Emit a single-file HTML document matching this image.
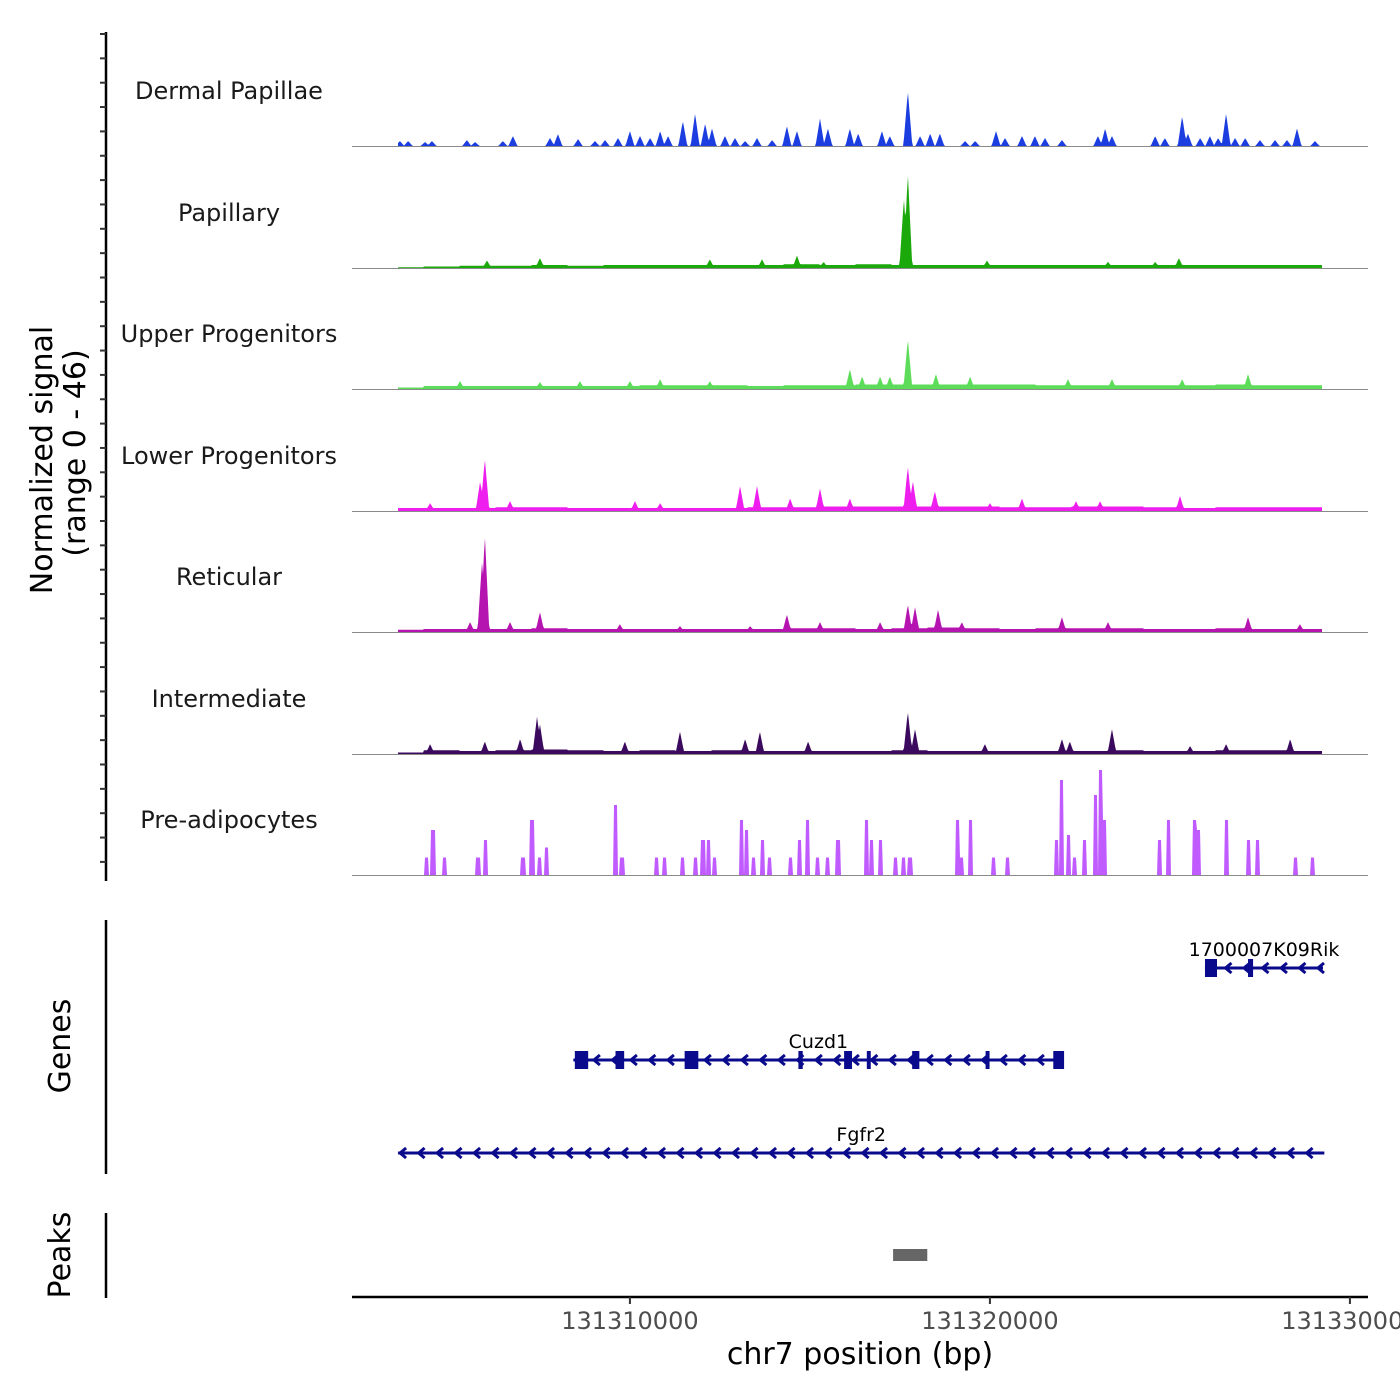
<!DOCTYPE html>
<html><head><meta charset="utf-8">
<style>
html,body{margin:0;padding:0;background:#fff;}
svg{display:block;font-family:"DejaVu Sans","Liberation Sans",sans-serif;}
</style></head>
<body>
<svg id="chart" width="1400" height="1400" viewBox="0 0 1400 1400" xmlns="http://www.w3.org/2000/svg">
<rect width="1400" height="1400" fill="#fff"/>
<g id="tracks"></g>
<g id="genes"></g>
<g id="axes"></g>
</svg>
<script>
// ---- data ----
const regionStartBp = 131302280;
const regionEndBp = 131330500;
const xTickBp = [131310000, 131320000, 131330000];
const xTickLabels = ["131310000", "131320000", "131330000"];
const trackNames = ["Dermal Papillae","Papillary","Upper Progenitors","Lower Progenitors","Reticular","Intermediate","Pre-adipocytes"];
const trackColors = ["#1c3ee0","#1aa80a","#5ddc5a","#ee1fee","#b514b0","#3b0a5e","#c05cff"];
const yMax = 46;
// background levels per 1kb bin starting at offset 1 kb
const bgDermal = [0,0,0,0,0,0,0,0,0,0,0,0,0,0,0,0,0,0,0,0,0,0,0,0,0,0,0];
const bgPapillary = [0.3,0.6,0.9,0.9,1.2,0.9,1.2,1.2,1.2,1.2,1.2,1.5,1.2,1.5,1.2,1.2,1.2,1.2,1.2,1.2,1.2,1.2,1.2,1.2,1.2,1.2,0.6];
const bgUpper = [0.6,1.2,1.2,1.2,1.2,1.2,1.2,1.5,1.5,1.5,1.2,1.5,1.5,1.8,1.8,1.8,1.8,1.8,1.5,1.5,1.5,1.5,1.5,1.8,1.5,1.5,1.2];
const bgLower = [1.2,1.2,1.2,1.5,1.5,1.2,1.2,1.2,1.2,1.2,1.5,1.5,1.8,1.8,1.8,1.8,1.8,1.5,1.5,1.8,1.8,1.5,1.2,1.5,1.5,1.5,1.2];
const bgReticular = [0.9,1.2,1.2,1.2,1.5,1.2,1.2,1.2,1.2,1.2,1.2,1.5,1.5,1.2,1.5,1.8,1.5,1.2,1.5,1.5,1.5,1.2,1.2,1.5,1.2,1.2,0];
const bgIntermediate = [0.6,1.5,1.2,1.5,1.8,1.5,1.2,1.5,1.2,1.5,1.2,1.2,1.2,1.2,1.5,1.2,1.2,1.2,1.2,1.2,1.5,1.2,1.2,1.5,1.5,1.2,0.6];
const bgPreadipo = [0,0,0,0,0,0,0,0,0,0,0,0,0,0,0,0,0,0,0,0,0,0,0,0,0,0,0];
// peaks: offset (kb from region start) and height (signal units)
const pkDermalPos = [1.33,1.56,2.03,2.22,3.19,3.42,4.19,4.47,5.5,5.72,6.28,6.75,7.03,7.39,7.72,8.0,8.28,8.56,8.78,9.19,9.53,9.81,10.0,10.36,10.64,10.92,11.25,11.67,12.08,12.36,13.0,13.22,13.83,14.06,14.72,14.94,15.44,15.78,16.06,16.33,17.03,17.31,17.89,18.14,18.61,18.97,19.25,19.72,20.72,20.92,21.11,22.31,22.58,23.06,23.22,23.56,23.83,24.06,24.28,24.53,24.81,25.22,25.64,25.97,26.25,26.75];
const pkDermalVal = [2,2,1.6,2,2.4,1.6,2,4,3.2,4.8,2.8,2,2.4,3.2,6,4,3.2,6,4,10,13,9,7,4,3.2,2,3.2,2.4,8,6,11,7,7,5,6,4,22,4,5,5,2,2,6,3.2,4,4,3.2,2.4,4,7,4,4,3.2,12,5,3.2,4,3.2,13,3.2,3.2,2.4,2.4,2.4,7,2];
const pkPapillaryPos = [15.33,15.44,3.75,5.22,12.36,11.39,17.64,22.97,21.0,22.31,9.94,13.1];
const pkPapillaryVal = [28,38,3,4,5,3.5,3,4,2.5,2.5,3.5,2.5];
const pkUpperPos = [15.44,13.83,14.17,14.67,14.94,16.22,17.17,19.89,21.11,23.06,24.89,3.0,6.33,5.22,7.72,8.56,9.94];
const pkUpperVal = [20,8,5,5,5,6,5,4,4,4,6,3.2,3.2,2.8,3.2,4,3.2];
const pkLowerPos = [3.69,3.56,10.78,11.25,12.17,13.0,13.83,15.44,15.58,16.19,23.0,20.78,2.17,4.39,7.86,8.56,17.72,18.61,20.11];
const pkLowerVal = [21,12,10,10,5,9,5,18,12,8,6,4,3.2,4,4,3.2,3.2,5,4];
const pkReticularPos = [3.69,3.61,5.22,3.28,4.39,12.08,15.44,15.64,16.28,13.0,14.67,16.94,19.72,21.0,24.89,26.33,7.44,9.11,11.06];
const pkReticularVal = [39,28,8,4,4,7,11,10,9,4,4,4,6,4,6,3.2,3.2,2.4,2.4];
const pkInterPos = [3.69,5.14,5.22,4.67,2.17,7.58,9.11,11.33,10.92,12.67,15.44,15.64,17.58,19.72,19.94,21.11,23.28,24.28,26.06];
const pkInterVal = [5,15,12,6,4,5,9,9,6,5,17,10,4,6,5,10,3.2,4,6];
const pkPrePos = [2.08,2.25,2.58,3.5,3.72,4.75,5.0,5.22,5.39,7.33,7.5,8.47,8.69,9.19,9.53,9.75,9.89,10.06,10.83,10.97,11.14,11.39,11.61,12.17,12.44,12.64,12.94,13.22,13.5,14.28,14.44,14.67,15.11,15.33,15.5,16.83,16.94,17.17,17.83,18.22,19.58,19.72,19.89,20.08,20.36,20.64,20.78,20.89,22.44,22.67,23.39,23.5,24.28,24.89,25.14,26.22,26.69];
const pkPreVal = [7,18,7,7,14,7,22,7,11,28,7,7,7,7,7,14,14,7,22,18,7,14,7,7,14,22,7,7,14,22,14,14,7,7,7,22,7,22,7,7,14,38,16,7,14,32,42,22,14,22,22,18,22,14,14,7,7];
const trackBg = [bgDermal,bgPapillary,bgUpper,bgLower,bgReticular,bgIntermediate,bgPreadipo];
const trackPkPos = [pkDermalPos,pkPapillaryPos,pkUpperPos,pkLowerPos,pkReticularPos,pkInterPos,pkPrePos];
const trackPkVal = [pkDermalVal,pkPapillaryVal,pkUpperVal,pkLowerVal,pkReticularVal,pkInterVal,pkPreVal];
// genes (bp)
const geneNames = ["1700007K09Rik","Cuzd1","Fgfr2"];
const geneStart = [131325974, 131308430, 131303560];
const geneEnd = [131329252, 131322040, 131329290];
const geneRows = [0,1,2];
const exonGene = [0,0,1,1,1,1,1,1,1,1,1];
const exonStart = [131325974,131327170,131308470,131309600,131311520,131314680,131315950,131316580,131317840,131319880,131321760];
const exonEnd = [131326308,131327310,131308840,131309840,131311900,131314800,131316170,131316690,131318040,131319990,131322060];
const peakRegionStart = [131317310];
const peakRegionEnd = [131318260];

// ---- scales ----
const X0 = 352, X1 = 1368;
const pxPerBp = 36/1000;
function xScale(bp){ return X0 + (bp - regionStartBp)*pxPerBp; }
const trackBase = [146,268,389,511,632,754,875];
const trackH = 115;
function yScale(i, v){ return trackBase[i] - v/yMax*trackH; }
const NS = "http://www.w3.org/2000/svg";
function mk(tag, attrs, parent){ const e=document.createElementNS(NS,tag); for(const k in attrs) e.setAttribute(k,attrs[k]); parent.appendChild(e); return e; }

const tracksG = document.getElementById('tracks');
for(let i=0;i<7;i++){
  const g = mk('g',{},tracksG);
  
  
  const lbl = mk('text',{x:229,y:trackBase[i]-47,'text-anchor':'middle','font-size':'24',fill:'#1a1a1a'},g);
  lbl.textContent = trackNames[i];
  
  
  const pxStart = Math.round(xScale(regionStartBp + 1280)), pxEnd = Math.round(xScale(regionStartBp + 26950));
  const bars = (i===6);
  const prof = [];
  for(let px=pxStart; px<=pxEnd; px++){
    const kb = (px - X0)/pxPerBp/1000;
    const bi = Math.floor(kb - 1);
    let v = (bi>=0 && bi<trackBg[i].length) ? trackBg[i][bi] : 0;
    const pos = trackPkPos[i], val = trackPkVal[i];
    for(let k=0;k<pos.length;k++){
      const cx = xScale(regionStartBp + pos[k]*1000);
      const d = Math.abs(px - cx);
      if(bars){ if(d<=2) v = Math.max(v, val[k]); }
      else { const hw = 4.5; if(d<hw) v = Math.max(v, val[k]*(1-d/hw)); }
    }
    prof.push([px, v]);
  }
  let d = 'M'+pxStart+','+trackBase[i];
  for(const [px,v] of prof) d += 'L'+px+','+yScale(i,v).toFixed(1);
  d += 'L'+pxEnd+','+trackBase[i]+'Z';
  const area = mk('path',{d:d,fill:trackColors[i],stroke:'none'},g);
  
  
  const bl = mk('line',{x1:X0,x2:X1,y1:trackBase[i]+0.5,y2:trackBase[i]+0.5,stroke:'#8a8a8a','stroke-width':1},g);
  
  
}

// genes
const genesG = document.getElementById('genes');
const rowY = [968,1060,1153];
const navy = '#0a0a8c';
for(let gI=0; gI<geneNames.length; gI++){
  const y = rowY[geneRows[gI]];
  const xa = xScale(geneStart[gI]), xb = xScale(geneEnd[gI]);
  const g = mk('g',{},genesG);
  
  
  mk('line',{x1:xa,x2:xb,y1:y,y2:y,stroke:navy,'stroke-width':3},g);
  for(let x=xa+2; x<xb-4; x+=18.5){
    mk('path',{d:'M'+(x+6)+','+(y-5)+'L'+x+','+y+'L'+(x+6)+','+(y+5),fill:'none',stroke:navy,'stroke-width':3},g);
  }
  const t = mk('text',{x:(xa+xb)/2,y:y-12,'text-anchor':'middle','font-size':'19',fill:'#000'},g);
  t.textContent = geneNames[gI];
  
  
}
for(let e=0;e<exonStart.length;e++){
  const y = rowY[geneRows[exonGene[e]]];
  const xa = xScale(exonStart[e]), xb = xScale(exonEnd[e]);
  const r = mk('rect',{x:xa,y:y-9,width:Math.max(xb-xa,3),height:18,fill:navy},genesG);
  
  
}
for(let p=0;p<peakRegionStart.length;p++){
  const xa = xScale(peakRegionStart[p]), xb = xScale(peakRegionEnd[p]);
  const r = mk('rect',{x:xa,y:1249,width:xb-xa,height:12,fill:'#666'},genesG);
  
  
}

// axes
const ax = document.getElementById('axes');
mk('line',{x1:106,x2:106,y1:32,y2:881,stroke:'#000','stroke-width':2.5},ax);
for(let y=34; y<=880; y+=24.35){ mk('line',{x1:100,x2:106,y1:y,y2:y,stroke:'#333','stroke-width':2},ax); }
mk('line',{x1:106,x2:106,y1:920,y2:1174,stroke:'#000','stroke-width':2.5},ax);
mk('line',{x1:106,x2:106,y1:1213,y2:1298,stroke:'#000','stroke-width':2.5},ax);
mk('line',{x1:X0,x2:X1,y1:1297,y2:1297,stroke:'#000','stroke-width':2.5},ax);
for(let k=0;k<xTickBp.length;k++){
  const x = xScale(xTickBp[k]);
  mk('line',{x1:x,x2:x,y1:1297,y2:1304,stroke:'#333','stroke-width':2},ax);
  const t = mk('text',{x:x,y:1329,'text-anchor':'middle','font-size':'24',fill:'#4d4d4d'},ax);
  t.textContent = xTickLabels[k];
  
  
}
</script>
<svg style="position:absolute;left:0;top:0" width="1400" height="1400">
<text x="860" y="1364" text-anchor="middle" font-size="30" fill="#000" font-family="DejaVu Sans, Liberation Sans, sans-serif">chr7 position (bp)</text>
<text transform="translate(52,460) rotate(-90)" text-anchor="middle" font-size="30" fill="#000" font-family="DejaVu Sans, Liberation Sans, sans-serif">Normalized signal</text>
<text transform="translate(85,453) rotate(-90)" text-anchor="middle" font-size="30" fill="#000" font-family="DejaVu Sans, Liberation Sans, sans-serif">(range 0 - 46)</text>
<text transform="translate(70,1046) rotate(-90)" text-anchor="middle" font-size="30" fill="#000" font-family="DejaVu Sans, Liberation Sans, sans-serif">Genes</text>
<text transform="translate(70,1255) rotate(-90)" text-anchor="middle" font-size="30" fill="#000" font-family="DejaVu Sans, Liberation Sans, sans-serif">Peaks</text>
</svg>
</body></html>
